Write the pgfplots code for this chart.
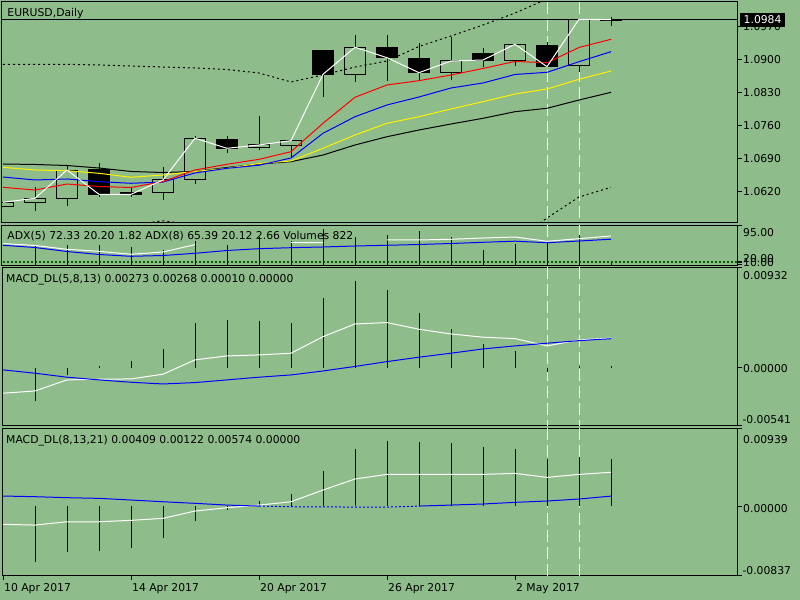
\documentclass[border=0pt]{standalone}
\usepackage{pgfplots}
\pgfplotsset{compat=1.18}
\usepackage{pgfplotstable}
\usepackage{fontspec}
\setmainfont{DejaVu Sans}
\definecolor{bg}{RGB}{143,188,139}
\definecolor{dgreen}{RGB}{0,100,0}

% i O H L C F(1=bearish filled)
\pgfplotstableread{
i O H L C F
0 1.05887 1.05976 1.05887 1.05976 0
1 1.05982 1.06306 1.05799 1.06061 0
2 1.06061 1.06765 1.05898 1.06659 0
3 1.06680 1.06801 1.06095 1.06145 1
4 1.06179 1.06306 1.06082 1.06145 1
5 1.06188 1.06716 1.06025 1.06448 0
6 1.06448 1.07378 1.06363 1.07330 0
7 1.07308 1.07378 1.07025 1.07118 1
8 1.07139 1.07801 1.07082 1.07188 0
9 1.07173 1.07279 1.06907 1.07279 0
10 1.09176 1.09176 1.08209 1.08683 1
11 1.08689 1.09514 1.08526 1.09254 0
12 1.09254 1.09514 1.08548 1.09034 1
13 1.09021 1.09338 1.08548 1.08717 1
14 1.08725 1.09478 1.08562 1.08964 0
15 1.09127 1.09233 1.08844 1.08985 1
16 1.08970 1.09317 1.08865 1.09317 0
17 1.09302 1.09360 1.08844 1.08844 1
18 1.08865 1.09846 1.08738 1.09846 0
19 1.09825 1.09901 1.09711 1.09840 1
}\candles

\pgfplotstableread{
i red blue yel blk up lo
0 1.06293 1.06511 1.06716 1.06786 1.08894 1.05390
1 1.06236 1.06448 1.06659 1.06776 1.08894 1.05348
2 1.06363 1.06469 1.06644 1.06754 1.08894 1.05412
3 1.06310 1.06412 1.06589 1.06701 1.08880 1.05475
4 1.06289 1.06378 1.06505 1.06628 1.08858 1.05496
5 1.06416 1.06405 1.06553 1.06606 1.08837 1.05585
6 1.06659 1.06596 1.06628 1.06628 1.08816 1.05496
7 1.06780 1.06695 1.06695 1.06712 1.08784 1.05433
8 1.06885 1.06759 1.06797 1.06786 1.08710 1.05285
9 1.07046 1.06913 1.06850 1.06835 1.08520 1.05073
10 1.07647 1.07435 1.07118 1.06976 1.08668 1.04756
11 1.08197 1.07786 1.07399 1.07188 1.08837 1.04798
12 1.08457 1.08034 1.07647 1.07363 1.08964 1.04862
13 1.08548 1.08203 1.07786 1.07505 1.09271 1.04925
14 1.08668 1.08393 1.07949 1.07632 1.09493 1.04968
15 1.08806 1.08499 1.08104 1.07752 1.09725 1.05052
16 1.08954 1.08679 1.08266 1.07892 1.09979 1.05179
17 1.08928 1.08725 1.08372 1.07964 1.10275 1.05644
18 1.09250 1.08949 1.08577 1.08139 1.10508 1.06088
19 1.09423 1.09161 1.08753 1.08302 1.10677 1.06293
}\mainlines

\pgfplotstableread{
i vol wht blu
0 nan 56.3 52.5
1 51.0 52.1 47.8
2 53.8 44.0 39.3
3 52.5 39.75 32.95
4 48.9 33.4 29.1
5 41.9 38.3 30.8
6 61.0 53.8 35.5
7 52.5 nan 41.45
8 70.1 nan 45.3
9 61.0 58.0 47.4
10 87.8 58.0 48.9
11 70.1 nan 51.0
12 73.8 63.8 52.5
13 82.3 63.8 54.2
14 70.1 65.3 56.3
15 41.9 68.0 58.9
16 54.6 70.1 61.2
17 61.0 61.0 58.0
18 73.8 66.5 61.6
19 15.5 72.33 65.39
}\adxtab

\pgfplotstableread{
i hist wht blu
0 nan -0.00239 -0.00022
1 -0.00308 -0.00218 -0.00053
2 -0.00070 -0.00115 -0.00090
3 0.00012 -0.00109 -0.00115
4 0.00061 -0.00106 -0.00137
5 0.00173 -0.00062 -0.00153
6 0.00418 0.00071 -0.00140
7 0.00443 0.00108 -0.00115
8 0.00433 0.00117 -0.00090
9 0.00418 0.00133 -0.00069
10 0.00644 0.00287 -0.00032
11 0.00805 0.00405 0.00010
12 0.00722 0.00418 0.00055
13 0.00511 0.00356 0.00096
14 0.00359 0.00312 0.00133
15 0.00219 0.00282 0.00173
16 0.00157 0.00269 0.00201
17 -0.00040 0.00201 0.00226
18 0.00010 0.00257 0.00250
19 0.00010 0.00273 0.00268
}\macdA

\pgfplotstableread{
i hist wht blu bld
0 nan -0.00218 0.00123 nan
1 -0.00676 -0.00227 0.00115 nan
2 -0.00555 -0.00187 0.00103 nan
3 -0.00536 -0.00187 0.00095 nan
4 -0.00500 -0.00170 0.00075 nan
5 -0.00387 -0.00146 0.00054 nan
6 -0.00175 -0.00058 0.00035 nan
7 -0.00042 -0.00018 0.00014 nan
8 0.00063 0.00014 0.00002 0.00002
9 0.00147 0.00054 nan -0.00006
10 0.00428 0.00195 nan -0.00008
11 0.00686 0.00328 nan -0.00010
12 0.00789 0.00384 nan -0.00010
13 0.00774 0.00384 0.00002 0.00002
14 0.00761 0.00384 0.00014 nan
15 0.00713 0.00384 0.00027 nan
16 0.00689 0.00396 0.00047 nan
17 0.00569 0.00348 0.00063 nan
18 0.00593 0.00384 0.00087 nan
19 0.00574 0.00409 0.00122 nan
}\macdB

\pgfplotsset{
  panel/.style={anchor=south west, scale only axis, width=735.7bp,
    xmin=-0.03125, xmax=22.959, axis line style={black, line width=1bp},
    xtick=\empty, ytick pos=right, yticklabels={}, xticklabels={},
    scaled y ticks=false, scaled x ticks=false,
    tick align=outside, major tick length=4bp,
    every tick/.style={black, line width=1bp}},
  vdash/.style={white, line width=1bp, dash pattern=on 12bp off 5bp},
}
\tikzset{lbl/.style={inner sep=0pt, font=\fontsize{10.8bp}{13bp}\selectfont}}

\begin{document}
\begin{tikzpicture}
\useasboundingbox (0,0) rectangle (800bp,600bp);
\fill[bg] (0,0) rectangle (800bp,600bp);

% ---------------- main price panel
\begin{axis}[panel, at={(2bp,377bp)}, height=221bp,
  ymin=1.055384, ymax=1.102117,
  ytick={1.062,1.069,1.076,1.083,1.090,1.097}]
\addplot[vdash] coordinates {(17,1.102117) (17,1.055384)};
\addplot[vdash] coordinates {(18,1.102117) (18,1.055384)};
\addplot[black, line width=1bp] coordinates {(-1,1.0984) (24,1.0984)};
\pgfplotsinvokeforeach{0,...,19}{%
  \pgfplotstablegetelem{#1}{O}\of\candles\edef\vO{\pgfplotsretval}%
  \pgfplotstablegetelem{#1}{H}\of\candles\edef\vH{\pgfplotsretval}%
  \pgfplotstablegetelem{#1}{L}\of\candles\edef\vL{\pgfplotsretval}%
  \pgfplotstablegetelem{#1}{C}\of\candles\edef\vC{\pgfplotsretval}%
  \pgfplotstablegetelem{#1}{F}\of\candles\edef\vF{\pgfplotsretval}%
  \pgfmathsetmacro\xl{#1-0.328}\pgfmathsetmacro\xr{#1+0.328}%
  \edef\temp{\noexpand\addplot[black,line width=1bp] coordinates {(#1,\vH) (#1,\vL)};%
    \noexpand\addplot[draw=black,fill=\ifnum\vF=1 black\else bg\fi,line width=1bp,line cap=rect]
      coordinates {(\xl,\vO) (\xr,\vO) (\xr,\vC) (\xl,\vC) (\xl,\vO)};}%
  \temp
}
\addplot[black, line width=1bp, dash pattern=on 2bp off 3bp] table[x=i,y=up] {\mainlines};
\addplot[black, line width=1bp, dash pattern=on 2bp off 3bp] table[x=i,y=lo] {\mainlines};
\addplot[black, line width=1bp] table[x=i,y=blk] {\mainlines};
\addplot[yellow, line width=1bp] table[x=i,y=yel] {\mainlines};
\addplot[blue, line width=1bp] table[x=i,y=blue] {\mainlines};
\addplot[red, line width=1bp] table[x=i,y=red] {\mainlines};
\addplot[white, line width=1bp] table[x=i,y=C] {\candles};
\end{axis}

% ---------------- ADX / volumes panel
\begin{axis}[panel, at={(2bp,334.7bp)}, height=40bp,
  ymin=10, ymax=95, ytick={11.3,15.5,19.1,95}]
\addplot[vdash] coordinates {(17,95) (17,10)};
\addplot[vdash] coordinates {(18,95) (18,10)};
\addplot[dgreen, line width=1bp, dash pattern=on 2bp off 2bp] coordinates {(-1,19.1) (24,19.1)};
\addplot[dgreen, line width=1bp, dash pattern=on 2bp off 2bp] coordinates {(-1,15.5) (24,15.5)};
\addplot[ycomb, black, line width=1bp, mark=none] table[x=i,y=vol] {\adxtab};
\addplot[blue, line width=1bp] table[x=i,y=blu] {\adxtab};
\addplot[white, line width=1bp, unbounded coords=jump] table[x=i,y=wht] {\adxtab};
\end{axis}

% ---------------- MACD(5,8,13)
\begin{axis}[panel, at={(2bp,174.3bp)}, height=158.4bp,
  ymin=-0.00541, ymax=0.00932, ytick={-0.00541,0,0.00932}]
\addplot[vdash] coordinates {(17,0.00932) (17,-0.00541)};
\addplot[vdash] coordinates {(18,0.00932) (18,-0.00541)};
\addplot[ycomb, black, line width=1bp, mark=none] table[x=i,y=hist] {\macdA};
\addplot[white, line width=1bp] table[x=i,y=wht] {\macdA};
\addplot[blue, line width=1bp] table[x=i,y=blu] {\macdA};
\end{axis}

% ---------------- MACD(8,13,21)
\begin{axis}[panel, at={(2bp,24.3bp)}, height=147.4bp,
  ymin=-0.00837, ymax=0.00939, ytick={-0.00837,0,0.00939},
  xtick={0,4,8,12,16}, xtick pos=bottom, xticklabels={}]
\addplot[vdash] coordinates {(17,0.00939) (17,-0.00837)};
\addplot[vdash] coordinates {(18,0.00939) (18,-0.00837)};
\addplot[ycomb, black, line width=1bp, mark=none] table[x=i,y=hist] {\macdB};
\addplot[white, line width=1bp] table[x=i,y=wht] {\macdB};
\addplot[blue, line width=1bp, unbounded coords=jump] table[x=i,y=blu] {\macdB};
\addplot[blue, line width=1bp, dash pattern=on 2bp off 2bp, unbounded coords=discard] table[x=i,y=bld] {\macdB};
\end{axis}

% ---------------- texts
\node[lbl, anchor=base west] at (7.3bp,583.7bp) {EURUSD,Daily};
\node[lbl, anchor=base west] at (7.3bp,360.7bp) {ADX(5) 72.33 20.20 1.82 ADX(8) 65.39 20.12 2.66 Volumes 822};
\node[lbl, anchor=base west] at (6bp,317.7bp) {MACD\_DL(5,8,13) 0.00273 0.00268 0.00010 0.00000};
\node[lbl, anchor=base west] at (6bp,156bp) {MACD\_DL(8,13,21) 0.00409 0.00122 0.00574 0.00000};

\node[lbl, anchor=west] at (743bp,408.3bp) {1.0620};
\node[lbl, anchor=west] at (743bp,441.4bp) {1.0690};
\node[lbl, anchor=west] at (743bp,474.5bp) {1.0760};
\node[lbl, anchor=west] at (743bp,507.6bp) {1.0830};
\node[lbl, anchor=west] at (743bp,540.7bp) {1.0900};
\node[lbl, anchor=west] at (743bp,573.8bp) {1.0970};
\node[lbl, anchor=west, fill=black, text=white, inner xsep=3.5bp, inner ysep=2.9bp] at (740bp,580.4bp) {1.0984};

\node[lbl, anchor=base west] at (743bp,363bp) {95.00};
\node[lbl, anchor=base west] at (743bp,337.7bp) {20.00};
\node[lbl, anchor=base west] at (743bp,333.3bp) {10.00};

\node[lbl, anchor=base west] at (743bp,320bp) {0.00932};
\node[lbl, anchor=base west] at (743bp,227.3bp) {0.00000};
\node[lbl, anchor=base west] at (742.3bp,176.7bp) {-0.00541};

\node[lbl, anchor=base west] at (743bp,156.7bp) {0.00939};
\node[lbl, anchor=base west] at (743bp,87.7bp) {0.00000};
\node[lbl, anchor=base west] at (742.3bp,25.7bp) {-0.00837};

\node[lbl, anchor=base west] at (4bp,8.3bp) {10 Apr 2017};
\node[lbl, anchor=base west] at (132bp,8.3bp) {14 Apr 2017};
\node[lbl, anchor=base west] at (260bp,8.3bp) {20 Apr 2017};
\node[lbl, anchor=base west] at (388bp,8.3bp) {26 Apr 2017};
\node[lbl, anchor=base west] at (516bp,8.3bp) {2 May 2017};
\end{tikzpicture}
\end{document}
